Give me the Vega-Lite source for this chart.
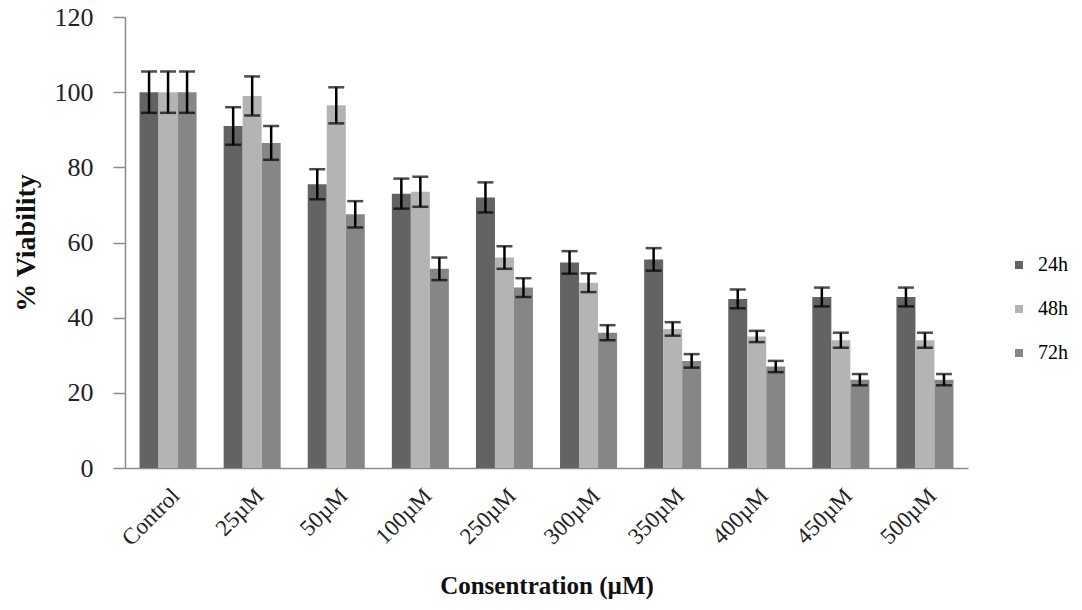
{
  "$schema": "https://vega.github.io/schema/vega-lite/v6.json",
  "width": 843,
  "height": 451,
  "autosize": {"type": "none"},
  "padding": {"left": 125, "top": 17, "right": 114, "bottom": 142},
  "background": "white",
  "config": {
    "view": {"stroke": null},
    "font": "Liberation Serif",
    "axis": {"labelFont": "Liberation Serif", "titleFont": "Liberation Serif", "labelColor": "#222", "titleColor": "#111", "domainColor": "#8c8c8c", "tickColor": "#8c8c8c", "domainWidth": 1.5, "tickWidth": 1.5, "grid": false},
    "legend": {"labelFont": "Liberation Serif"}
  },
  "data": {
    "values": [
      {"conc": "Control", "time": "24h", "viability": 100, "err": 5.5},
      {"conc": "Control", "time": "48h", "viability": 100, "err": 5.5},
      {"conc": "Control", "time": "72h", "viability": 100, "err": 5.5},
      {"conc": "25µM", "time": "24h", "viability": 91, "err": 5},
      {"conc": "25µM", "time": "48h", "viability": 99, "err": 5.2},
      {"conc": "25µM", "time": "72h", "viability": 86.5, "err": 4.5},
      {"conc": "50µM", "time": "24h", "viability": 75.5, "err": 4},
      {"conc": "50µM", "time": "48h", "viability": 96.5, "err": 4.8},
      {"conc": "50µM", "time": "72h", "viability": 67.5, "err": 3.5},
      {"conc": "100µM", "time": "24h", "viability": 73, "err": 4},
      {"conc": "100µM", "time": "48h", "viability": 73.5, "err": 4},
      {"conc": "100µM", "time": "72h", "viability": 53, "err": 3},
      {"conc": "250µM", "time": "24h", "viability": 72, "err": 4},
      {"conc": "250µM", "time": "48h", "viability": 56, "err": 3},
      {"conc": "250µM", "time": "72h", "viability": 48, "err": 2.5},
      {"conc": "300µM", "time": "24h", "viability": 54.7, "err": 3},
      {"conc": "300µM", "time": "48h", "viability": 49.3, "err": 2.5},
      {"conc": "300µM", "time": "72h", "viability": 36, "err": 2},
      {"conc": "350µM", "time": "24h", "viability": 55.5, "err": 3},
      {"conc": "350µM", "time": "48h", "viability": 37, "err": 1.8},
      {"conc": "350µM", "time": "72h", "viability": 28.5, "err": 1.8},
      {"conc": "400µM", "time": "24h", "viability": 45, "err": 2.5},
      {"conc": "400µM", "time": "48h", "viability": 35, "err": 1.5},
      {"conc": "400µM", "time": "72h", "viability": 27, "err": 1.5},
      {"conc": "450µM", "time": "24h", "viability": 45.5, "err": 2.5},
      {"conc": "450µM", "time": "48h", "viability": 34, "err": 2},
      {"conc": "450µM", "time": "72h", "viability": 23.5, "err": 1.5},
      {"conc": "500µM", "time": "24h", "viability": 45.5, "err": 2.5},
      {"conc": "500µM", "time": "48h", "viability": 34, "err": 2},
      {"conc": "500µM", "time": "72h", "viability": 23.5, "err": 1.5}
    ]
  },
  "encoding": {
    "x": {
      "field": "conc", "type": "nominal", "sort": null,
      "scale": {"paddingInner": 0.322, "paddingOuter": 0.173},
      "axis": {"title": "Consentration (µM)", "titleFontSize": 25, "titleFontWeight": "bold", "titlePadding": 24, "labelAngle": -45, "labelFontSize": 23, "ticks": false, "labelPadding": 16}
    },
    "xOffset": {"field": "time", "type": "nominal", "scale": {"paddingInner": 0, "paddingOuter": 0}},
    "y": {"field": "viability", "type": "quantitative", "scale": {"domain": [0, 120]},
      "axis": {"title": "% Viability", "titleFontSize": 28, "titleFontWeight": "bold", "titlePadding": 14, "labelFontSize": 26, "values": [0, 20, 40, 60, 80, 100, 120], "tickSize": 12, "labelPadding": 20}}
  },
  "layer": [
    {
      "mark": {"type": "bar"},
      "encoding": {
        "color": {
          "field": "time", "type": "nominal",
          "scale": {"domain": ["24h", "48h", "72h"], "range": ["#636363", "#b4b4b4", "#868686"]},
          "legend": {"title": null, "orient": "none", "legendX": 884, "legendY": 238, "symbolType": "square", "symbolSize": 64, "labelFontSize": 20, "rowPadding": 24, "labelOffset": 9, "symbolStrokeWidth": 0}
        }
      }
    },
    {
      "mark": {"type": "errorbar", "ticks": {"color": "black", "size": 16, "thickness": 2.5}, "rule": {"color": "black", "strokeWidth": 2.5}},
      "encoding": {
        "yError": {"field": "err"}
      }
    }
  ]
}
